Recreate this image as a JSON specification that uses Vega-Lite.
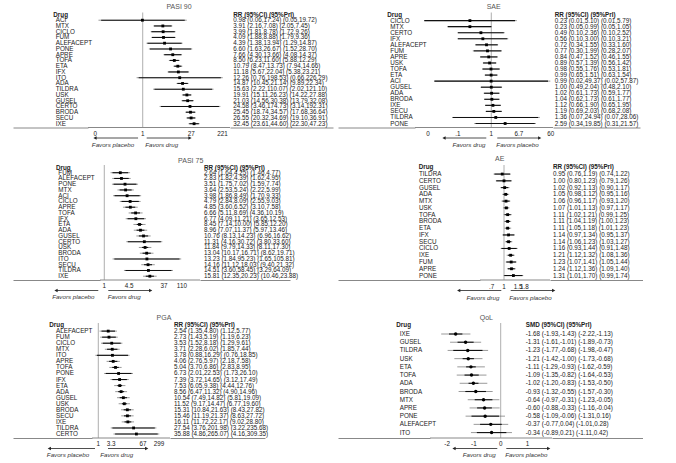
{
"$schema": "https://vega.github.io/schema/vega-lite/v6.json",
"background": "white",
"padding": {"left": 13, "top": 2.5, "right": 0, "bottom": 0},
"datasets": {
"one": [{}],
"t_pasi90": [{"v":0.04,"t":"0"},{"v":1,"t":"1"},{"v":27,"t":"27"},{"v":221,"t":"221"}],
"t_sae": [{"v":0.013,"t":"0"},{"v":0.1,"t":".1"},{"v":1,"t":"1"},{"v":6.7,"t":"6.7"},{"v":60,"t":"60"}],
"t_pasi75": [{"v":1,"t":"1"},{"v":4.5,"t":"4.5"},{"v":37,"t":"37"},{"v":110,"t":"110"}],
"t_ae": [{"v":0.7,"t":".7"},{"v":1,"t":"1"},{"v":1.5,"t":"1.5"},{"v":1.8,"t":"1.8"}],
"t_pga": [{"v":1,"t":"1"},{"v":3.3,"t":"3.3"},{"v":67,"t":"67"},{"v":299,"t":"299"}],
"t_qol": [{"v":-2,"t":"-2"},{"v":-1,"t":"-1"},{"v":0,"t":"0"},{"v":1,"t":"1"}],
"pasi90": [
{"drug":"ACI","rr":0.98,"lo":0.06,"hi":17.24,"plo":0.05,"phi":19.72,"label":"0.98 (0.06,17.24) (0.05,19.72)"},
{"drug":"MTX","rr":3.91,"lo":2.16,"hi":7.08,"plo":2.05,"phi":7.45,"label":"3.91 (2.16,7.08) (2.05,7.45)"},
{"drug":"CICLO","rr":3.99,"lo":1.81,"hi":8.78,"plo":1.72,"phi":9.26,"label":"3.99 (1.81,8.78) (1.72,9.26)"},
{"drug":"FUM","rr":4.09,"lo":1.88,"hi":8.88,"plo":1.79,"phi":9.36,"label":"4.09 (1.88,8.88) (1.79,9.36)"},
{"drug":"ALEFACEPT","rr":4.39,"lo":1.38,"hi":13.94,"plo":1.29,"phi":14.87,"label":"4.39 (1.38,13.94) (1.29,14.87)"},
{"drug":"PONE","rr":6.60,"lo":1.63,"hi":26.67,"plo":1.52,"phi":28.70,"label":"6.60 (1.63,26.67) (1.52,28.70)"},
{"drug":"APRE","rr":7.66,"lo":4.30,"hi":13.66,"plo":4.08,"phi":14.37,"label":"7.66 (4.30,13.66) (4.08,14.37)"},
{"drug":"TOFA","rr":8.50,"lo":6.23,"hi":11.60,"plo":5.88,"phi":12.29,"label":"8.50 (6.23,11.60) (5.88,12.29)"},
{"drug":"ETA","rr":10.79,"lo":8.47,"hi":13.73,"plo":7.94,"phi":14.66,"label":"10.79 (8.47,13.73) (7.94,14.66)"},
{"drug":"IFX","rr":11.18,"lo":5.67,"hi":22.04,"plo":5.38,"phi":23.21,"label":"11.18 (5.67,22.04) (5.38,23.21)"},
{"drug":"ITO","rr":12.26,"lo":0.76,"hi":198.53,"plo":0.66,"phi":226.29,"label":"12.26 (0.76,198.53) (0.66,226.29)"},
{"drug":"ADA","rr":14.87,"lo":10.45,"hi":21.14,"plo":9.89,"phi":22.34,"label":"14.87 (10.45,21.14) (9.89,22.34)"},
{"drug":"TILDRA","rr":15.63,"lo":2.22,"hi":110.07,"plo":2.02,"phi":121.10,"label":"15.63 (2.22,110.07) (2.02,121.10)"},
{"drug":"USK","rr":19.91,"lo":15.11,"hi":26.23,"plo":14.22,"phi":27.88,"label":"19.91 (15.11,26.23) (14.22,27.88)"},
{"drug":"GUSEL","rr":21.03,"lo":14.56,"hi":30.38,"plo":13.79,"phi":32.08,"label":"21.03 (14.56,30.38) (13.79,32.08)"},
{"drug":"CERTO","rr":24.58,"lo":3.46,"hi":174.73,"plo":3.14,"phi":192.31,"label":"24.58 (3.46,174.73) (3.14,192.31)"},
{"drug":"BRODA","rr":25.45,"lo":18.74,"hi":34.57,"plo":17.68,"phi":36.64,"label":"25.45 (18.74,34.57) (17.68,36.64)"},
{"drug":"SECU","rr":26.55,"lo":20.32,"hi":34.69,"plo":19.10,"phi":36.91,"label":"26.55 (20.32,34.69) (19.10,36.91)"},
{"drug":"IXE","rr":32.45,"lo":23.61,"hi":44.60,"plo":22.30,"phi":47.23,"label":"32.45 (23.61,44.60) (22.30,47.23)"}
],
"sae": [
{"drug":"CICLO","rr":0.23,"lo":0.01,"hi":5.10,"plo":0.01,"phi":5.79,"label":"0.23 (0.01,5.10)  (0.01,5.79)"},
{"drug":"MTX","rr":0.23,"lo":0.05,"hi":0.99,"plo":0.05,"phi":1.05,"label":"0.23 (0.05,0.99)  (0.05,1.05)"},
{"drug":"CERTO","rr":0.49,"lo":0.10,"hi":2.36,"plo":0.10,"phi":2.52,"label":"0.49 (0.10,2.36)  (0.10,2.52)"},
{"drug":"IFX","rr":0.56,"lo":0.10,"hi":3.00,"plo":0.10,"phi":3.21,"label":"0.56 (0.10,3.00)  (0.10,3.21)"},
{"drug":"ALEFACEPT","rr":0.72,"lo":0.34,"hi":1.55,"plo":0.33,"phi":1.60,"label":"0.72 (0.34,1.55)  (0.33,1.60)"},
{"drug":"FUM","rr":0.77,"lo":0.30,"hi":1.99,"plo":0.28,"phi":2.07,"label":"0.77 (0.30,1.99)  (0.28,2.07)"},
{"drug":"APRE","rr":0.84,"lo":0.47,"hi":1.52,"plo":0.46,"phi":1.55,"label":"0.84 (0.47,1.52)  (0.46,1.55)"},
{"drug":"USK","rr":0.89,"lo":0.57,"hi":1.39,"plo":0.56,"phi":1.42,"label":"0.89 (0.57,1.39)  (0.56,1.42)"},
{"drug":"TOFA","rr":0.98,"lo":0.55,"hi":1.76,"plo":0.53,"phi":1.81,"label":"0.98 (0.55,1.76)  (0.53,1.81)"},
{"drug":"ETA","rr":0.99,"lo":0.65,"hi":1.51,"plo":0.63,"phi":1.54,"label":"0.99 (0.65,1.51)  (0.63,1.54)"},
{"drug":"ACI","rr":0.99,"lo":0.02,"hi":49.37,"plo":0.02,"phi":57.87,"label":"0.99 (0.02,49.37)  (0.02,57.87)"},
{"drug":"GUSEL","rr":1.00,"lo":0.49,"hi":2.04,"plo":0.48,"phi":2.10,"label":"1.00 (0.49,2.04)  (0.48,2.10)"},
{"drug":"ADA","rr":1.02,"lo":0.61,"hi":1.73,"plo":0.59,"phi":1.77,"label":"1.02 (0.61,1.73)  (0.59,1.77)"},
{"drug":"BRODA","rr":1.04,"lo":0.62,"hi":1.73,"plo":0.61,"phi":1.77,"label":"1.04 (0.62,1.73)  (0.61,1.77)"},
{"drug":"IXE","rr":1.12,"lo":0.66,"hi":1.90,"plo":0.65,"phi":1.95,"label":"1.12 (0.66,1.90)  (0.65,1.95)"},
{"drug":"SECU","rr":1.19,"lo":0.69,"hi":2.03,"plo":0.68,"phi":2.08,"label":"1.19 (0.69,2.03)  (0.68,2.08)"},
{"drug":"TILDRA","rr":1.36,"lo":0.07,"hi":24.94,"plo":0.07,"phi":28.06,"label":"1.36 (0.07,24.94)  (0.07,28.06)"},
{"drug":"PONE","rr":2.59,"lo":0.34,"hi":19.85,"plo":0.31,"phi":21.57,"label":"2.59 (0.34,19.85)  (0.31,21.57)"}
],
"pasi75": [
{"drug":"FUM","rr":2.64,"lo":1.64,"hi":4.25,"plo":1.46,"phi":4.77,"label":"2.64 (1.64,4.25) (1.46,4.77)"},
{"drug":"ALEFACEPT","rr":2.83,"lo":1.82,"hi":4.39,"plo":1.62,"phi":4.95,"label":"2.83 (1.82,4.39) (1.62,4.95)"},
{"drug":"PONE","rr":3.51,"lo":1.75,"hi":7.02,"plo":1.59,"phi":7.74,"label":"3.51 (1.75,7.02) (1.59,7.74)"},
{"drug":"MTX","rr":3.64,"lo":2.53,"hi":5.24,"plo":2.22,"phi":5.99,"label":"3.64 (2.53,5.24) (2.22,5.99)"},
{"drug":"ACI","rr":3.98,"lo":1.86,"hi":8.49,"plo":1.70,"phi":9.33,"label":"3.98 (1.86,8.49) (1.70,9.33)"},
{"drug":"CICLO","rr":4.79,"lo":2.84,"hi":8.09,"plo":2.55,"phi":9.03,"label":"4.79 (2.84,8.09) (2.55,9.03)"},
{"drug":"APRE","rr":4.85,"lo":3.60,"hi":6.52,"plo":3.10,"phi":7.58,"label":"4.85 (3.60,6.52) (3.10,7.58)"},
{"drug":"TOFA","rr":6.66,"lo":5.11,"hi":8.69,"plo":4.36,"phi":10.19,"label":"6.66 (5.11,8.69) (4.36,10.19)"},
{"drug":"IFX","rr":6.77,"lo":4.09,"hi":11.21,"plo":3.65,"phi":12.53,"label":"6.77 (4.09,11.21) (3.65,12.53)"},
{"drug":"ETA","rr":8.45,"lo":7.14,"hi":10.00,"plo":5.85,"phi":12.20,"label":"8.45 (7.14,10.00) (5.85,12.20)"},
{"drug":"ADA","rr":8.96,"lo":7.07,"hi":11.37,"plo":5.97,"phi":13.46,"label":"8.96 (7.07,11.37) (5.97,13.46)"},
{"drug":"GUSEL","rr":10.76,"lo":8.13,"hi":14.23,"plo":6.96,"phi":16.62,"label":"10.76 (8.13,14.23) (6.96,16.62)"},
{"drug":"CERTO","rr":11.31,"lo":4.16,"hi":30.72,"plo":3.80,"phi":33.60,"label":"11.31 (4.16,30.72) (3.80,33.60)"},
{"drug":"USK","rr":11.84,"lo":9.79,"hi":14.33,"plo":8.11,"phi":17.30,"label":"11.84 (9.79,14.33) (8.11,17.30)"},
{"drug":"BRODA","rr":13.04,"lo":10.17,"hi":16.71,"plo":8.62,"phi":19.71,"label":"13.04 (10.17,16.71) (8.62,19.71)"},
{"drug":"ITO","rr":13.23,"lo":1.84,"hi":95.23,"plo":1.65,"phi":105.81,"label":"13.23 (1.84,95.23) (1.65,105.81)"},
{"drug":"SECU","rr":14.16,"lo":11.12,"hi":18.03,"plo":9.40,"phi":21.32,"label":"14.16 (11.12,18.03) (9.40,21.32)"},
{"drug":"TILDRA","rr":14.51,"lo":3.60,"hi":58.45,"plo":3.29,"phi":64.09,"label":"14.51 (3.60,58.45) (3.29,64.09)"},
{"drug":"IXE","rr":15.81,"lo":12.35,"hi":20.23,"plo":10.46,"phi":23.88,"label":"15.81 (12.35,20.23) (10.46,23.88)"}
],
"ae": [
{"drug":"TILDRA","rr":0.95,"lo":0.76,"hi":1.19,"plo":0.74,"phi":1.22,"label":"0.95 (0.76,1.19) (0.74,1.22)"},
{"drug":"CERTO","rr":1.00,"lo":0.80,"hi":1.23,"plo":0.79,"phi":1.26,"label":"1.00 (0.80,1.23) (0.79,1.26)"},
{"drug":"GUSEL","rr":1.02,"lo":0.92,"hi":1.13,"plo":0.90,"phi":1.17,"label":"1.02 (0.92,1.13) (0.90,1.17)"},
{"drug":"ADA","rr":1.05,"lo":0.98,"hi":1.12,"plo":0.95,"phi":1.16,"label":"1.05 (0.98,1.12) (0.95,1.16)"},
{"drug":"MTX","rr":1.06,"lo":0.96,"hi":1.17,"plo":0.93,"phi":1.20,"label":"1.06 (0.96,1.17) (0.93,1.20)"},
{"drug":"USK","rr":1.07,"lo":1.01,"hi":1.13,"plo":0.97,"phi":1.17,"label":"1.07 (1.01,1.13) (0.97,1.17)"},
{"drug":"TOFA","rr":1.11,"lo":1.02,"hi":1.21,"plo":0.99,"phi":1.25,"label":"1.11 (1.02,1.21) (0.99,1.25)"},
{"drug":"BRODA","rr":1.11,"lo":1.04,"hi":1.19,"plo":1.00,"phi":1.23,"label":"1.11 (1.04,1.19) (1.00,1.23)"},
{"drug":"ETA","rr":1.11,"lo":1.05,"hi":1.18,"plo":1.01,"phi":1.23,"label":"1.11 (1.05,1.18) (1.01,1.23)"},
{"drug":"IFX","rr":1.14,"lo":0.97,"hi":1.34,"plo":0.95,"phi":1.37,"label":"1.14 (0.97,1.34) (0.95,1.37)"},
{"drug":"SECU","rr":1.14,"lo":1.06,"hi":1.23,"plo":1.03,"phi":1.27,"label":"1.14 (1.06,1.23) (1.03,1.27)"},
{"drug":"CICLO","rr":1.16,"lo":0.93,"hi":1.44,"plo":0.91,"phi":1.48,"label":"1.16 (0.93,1.44) (0.91,1.48)"},
{"drug":"IXE","rr":1.21,"lo":1.12,"hi":1.32,"plo":1.08,"phi":1.36,"label":"1.21 (1.12,1.32) (1.08,1.36)"},
{"drug":"FUM","rr":1.23,"lo":1.07,"hi":1.41,"plo":1.05,"phi":1.44,"label":"1.23 (1.07,1.41) (1.05,1.44)"},
{"drug":"APRE","rr":1.24,"lo":1.12,"hi":1.36,"plo":1.09,"phi":1.40,"label":"1.24 (1.12,1.36) (1.09,1.40)"},
{"drug":"PONE","rr":1.31,"lo":1.01,"hi":1.70,"plo":0.99,"phi":1.74,"label":"1.31 (1.01,1.70) (0.99,1.74)"}
],
"pga": [
{"drug":"ALEFACEPT","rr":2.54,"lo":1.35,"hi":4.80,"plo":1.12,"phi":5.77,"label":"2.54 (1.35,4.80) (1.12,5.77)"},
{"drug":"FUM","rr":2.73,"lo":1.43,"hi":5.19,"plo":1.19,"phi":6.23,"label":"2.73 (1.43,5.19) (1.19,6.23)"},
{"drug":"CICLO","rr":3.53,"lo":1.52,"hi":8.18,"plo":1.29,"phi":9.61,"label":"3.53 (1.52,8.18) (1.29,9.61)"},
{"drug":"MTX","rr":3.71,"lo":2.28,"hi":6.02,"plo":1.85,"phi":7.44,"label":"3.71 (2.28,6.02) (1.85,7.44)"},
{"drug":"ITO","rr":3.78,"lo":0.88,"hi":16.29,"plo":0.76,"phi":18.85,"label":"3.78 (0.88,16.29) (0.76,18.85)"},
{"drug":"APRE","rr":4.06,"lo":2.76,"hi":5.97,"plo":2.18,"phi":7.58,"label":"4.06 (2.76,5.97) (2.18,7.58)"},
{"drug":"TOFA","rr":5.04,"lo":3.70,"hi":6.86,"plo":2.83,"phi":8.95,"label":"5.04 (3.70,6.86) (2.83,8.95)"},
{"drug":"PONE","rr":6.73,"lo":2.01,"hi":22.53,"plo":1.73,"phi":26.10,"label":"6.73 (2.01,22.53) (1.73,26.10)"},
{"drug":"IFX","rr":7.39,"lo":3.72,"hi":14.65,"plo":3.12,"phi":17.49,"label":"7.39 (3.72,14.65) (3.12,17.49)"},
{"drug":"ETA","rr":7.53,"lo":6.05,"hi":9.38,"plo":4.44,"phi":12.76,"label":"7.53 (6.05,9.38) (4.44,12.76)"},
{"drug":"ADA","rr":8.56,"lo":6.47,"hi":11.32,"plo":4.90,"phi":14.96,"label":"8.56 (6.47,11.32) (4.90,14.96)"},
{"drug":"GUSEL","rr":10.54,"lo":7.49,"hi":14.82,"plo":5.81,"phi":19.09,"label":"10.54 (7.49,14.82) (5.81,19.09)"},
{"drug":"USK","rr":11.52,"lo":9.17,"hi":14.47,"plo":6.77,"phi":19.60,"label":"11.52 (9.17,14.47) (6.77,19.60)"},
{"drug":"BRODA","rr":15.31,"lo":10.84,"hi":21.63,"plo":8.43,"phi":27.82,"label":"15.31 (10.84,21.63) (8.43,27.82)"},
{"drug":"SECU","rr":15.46,"lo":11.19,"hi":21.37,"plo":8.63,"phi":27.72,"label":"15.46 (11.19,21.37) (8.63,27.72)"},
{"drug":"IXE","rr":16.11,"lo":11.72,"hi":22.17,"plo":9.02,"phi":28.80,"label":"16.11 (11.72,22.17) (9.02,28.80)"},
{"drug":"TILDRA","rr":27.54,"lo":3.76,"hi":201.98,"plo":3.22,"phi":235.68,"label":"27.54 (3.76,201.98) (3.22,235.68)"},
{"drug":"CERTO","rr":35.88,"lo":4.86,"hi":265.07,"plo":4.16,"phi":309.35,"label":"35.88 (4.86,265.07) (4.16,309.35)"}
],
"qol": [
{"drug":"IXE","rr":-1.68,"lo":-1.93,"hi":-1.43,"plo":-2.22,"phi":-1.13,"label":"-1.68 (-1.93,-1.43) (-2.22,-1.13)"},
{"drug":"GUSEL","rr":-1.31,"lo":-1.61,"hi":-1.01,"plo":-1.89,"phi":-0.73,"label":"-1.31 (-1.61,-1.01) (-1.89,-0.73)"},
{"drug":"TILDRA","rr":-1.23,"lo":-1.77,"hi":-0.68,"plo":-1.98,"phi":-0.47,"label":"-1.23 (-1.77,-0.68) (-1.98,-0.47)"},
{"drug":"USK","rr":-1.21,"lo":-1.42,"hi":-1.00,"plo":-1.73,"phi":-0.68,"label":"-1.21 (-1.42,-1.00) (-1.73,-0.68)"},
{"drug":"ETA","rr":-1.11,"lo":-1.29,"hi":-0.93,"plo":-1.62,"phi":-0.59,"label":"-1.11 (-1.29,-0.93) (-1.62,-0.59)"},
{"drug":"TOFA","rr":-1.09,"lo":-1.35,"hi":-0.82,"plo":-1.64,"phi":-0.53,"label":"-1.09 (-1.35,-0.82) (-1.64,-0.53)"},
{"drug":"ADA","rr":-1.02,"lo":-1.20,"hi":-0.83,"plo":-1.53,"phi":-0.50,"label":"-1.02 (-1.20,-0.83) (-1.53,-0.50)"},
{"drug":"BRODA","rr":-0.93,"lo":-1.32,"hi":-0.55,"plo":-1.57,"phi":-0.30,"label":"-0.93 (-1.32,-0.55) (-1.57,-0.30)"},
{"drug":"MTX","rr":-0.64,"lo":-0.97,"hi":-0.31,"plo":-1.23,"phi":-0.05,"label":"-0.64 (-0.97,-0.31) (-1.23,-0.05)"},
{"drug":"APRE","rr":-0.60,"lo":-0.88,"hi":-0.33,"plo":-1.16,"phi":-0.04,"label":"-0.60 (-0.88,-0.33) (-1.16,-0.04)"},
{"drug":"PONE","rr":-0.58,"lo":-1.09,"hi":-0.06,"plo":-1.31,"phi":0.16,"label":"-0.58 (-1.09,-0.06) (-1.31,0.16)"},
{"drug":"ALEFACEPT","rr":-0.37,"lo":-0.77,"hi":0.04,"plo":-1.01,"phi":0.28,"label":"-0.37 (-0.77,0.04) (-1.01,0.28)"},
{"drug":"ITO","rr":-0.34,"lo":-0.89,"hi":0.21,"plo":-1.11,"phi":0.42,"label":"-0.34 (-0.89,0.21) (-1.11,0.42)"}
]
},
"spacing": 5.5,
"vconcat": [
{"hconcat": [
  {"width": 75, "height": 115, "data": {"name": "pasi90"},
   "title": {"text": "Drug", "anchor": "start", "frame": "group", "dx": 40.3, "offset": -8.7, "baseline": "middle", "fontSize": 6.3, "fontWeight": "bold", "color": "#222"},
   "mark": {"type": "text", "align": "left", "baseline": "middle", "dx": 42.7, "fontSize": 6.3, "color": "#222"},
   "encoding": {"x": {"datum": 0, "type": "quantitative", "scale": {"domain": [0, 1]}, "axis": {"labels": false, "ticks": false, "title": null}},
    "y": {"field": "drug", "type": "nominal", "sort": null, "scale": {"type": "point", "padding": 1.3, "align": 0.67}, "axis": null},
    "text": {"field": "drug"}}},
  {"width": 142, "height": 115,
   "title": {"text": "PASI 90", "anchor": "start", "frame": "group", "align": "center", "dx": 91, "offset": -2, "baseline": "middle", "fontSize": 7, "fontWeight": "normal", "color": "#555"},
   "layer": [
    {"data": {"name": "one"}, "mark": {"type": "rule", "color": "#999", "strokeWidth": 0.8}, "encoding": {"x": {"datum": 1, "type": "quantitative", "scale": {"type": "log", "domain": [0.02461, 369.4], "nice": false}, "axis": null}}},
    {"data": {"name": "one"}, "mark": {"type": "rule", "color": "#888", "strokeWidth": 1}, "encoding": {"x": {"datum": 0.02461, "axis": null}, "x2": {"datum": 369.4}, "y": {"datum": 0, "type": "quantitative", "scale": {"domain": [0, 115], "nice": false}, "axis": null}}},
    {"data": {"name": "t_pasi90"}, "mark": {"type": "text", "fontSize": 6.3, "color": "#222", "baseline": "middle"}, "encoding": {"x": {"field": "v", "type": "quantitative", "axis": null}, "y": {"datum": -6, "type": "quantitative", "scale": {"domain": [0, 115], "nice": false}, "axis": null}, "text": {"field": "t"}}},
    {"data": {"name": "one"}, "mark": {"type": "rule", "color": "#222", "strokeWidth": 0.8}, "encoding": {"x": {"datum": 0.73, "axis": null}, "x2": {"datum": 0.0395}, "y": {"datum": -10.5, "type": "quantitative", "scale": {"domain": [0, 115], "nice": false}, "axis": null}}},
    {"data": {"name": "one"}, "mark": {"type": "rule", "color": "#222", "strokeWidth": 0.8}, "encoding": {"x": {"datum": 1.31, "axis": null}, "x2": {"datum": 24.6}, "y": {"datum": -10.5, "type": "quantitative", "scale": {"domain": [0, 115], "nice": false}, "axis": null}}},
    {"data": {"name": "one"}, "mark": {"type": "point", "shape": "triangle-left", "filled": true, "size": 14, "color": "#222", "opacity": 1}, "encoding": {"x": {"datum": 0.0395, "axis": null}, "y": {"datum": -10.5, "type": "quantitative", "scale": {"domain": [0, 115], "nice": false}, "axis": null}}},
    {"data": {"name": "one"}, "mark": {"type": "point", "shape": "triangle-right", "filled": true, "size": 14, "color": "#222", "opacity": 1}, "encoding": {"x": {"datum": 24.6, "axis": null}, "y": {"datum": -10.5, "type": "quantitative", "scale": {"domain": [0, 115], "nice": false}, "axis": null}}},
    {"data": {"name": "one"}, "mark": {"type": "text", "fontStyle": "italic", "fontSize": 6.2, "color": "#333", "baseline": "middle"}, "encoding": {"x": {"datum": 0.134, "axis": null}, "y": {"datum": -17, "type": "quantitative", "scale": {"domain": [0, 115], "nice": false}, "axis": null}, "text": {"value": "Favors placebo"}}},
    {"data": {"name": "one"}, "mark": {"type": "text", "fontStyle": "italic", "fontSize": 6.2, "color": "#333", "baseline": "middle"}, "encoding": {"x": {"datum": 3.62, "axis": null}, "y": {"datum": -17, "type": "quantitative", "scale": {"domain": [0, 115], "nice": false}, "axis": null}, "text": {"value": "Favors drug"}}},
    {"data": {"name": "pasi90"}, "mark": {"type": "rule", "strokeWidth": 0.6, "color": "#555"}, "encoding": {"x": {"field": "plo", "type": "quantitative", "axis": null}, "x2": {"field": "phi"}, "y": {"field": "drug", "type": "nominal", "sort": null, "scale": {"type": "point", "padding": 1.3, "align": 0.67}, "axis": null}}},
    {"data": {"name": "pasi90"}, "mark": {"type": "rule", "strokeWidth": 1.1, "color": "#111"}, "encoding": {"x": {"field": "lo", "type": "quantitative", "axis": null}, "x2": {"field": "hi"}, "y": {"field": "drug", "type": "nominal", "sort": null, "scale": {"type": "point", "padding": 1.3, "align": 0.67}, "axis": null}}},
    {"data": {"name": "pasi90"}, "mark": {"type": "point", "shape": "square", "filled": true, "size": 8, "color": "#000", "opacity": 1}, "encoding": {"x": {"field": "rr", "type": "quantitative", "axis": null}, "y": {"field": "drug", "type": "nominal", "sort": null, "scale": {"type": "point", "padding": 1.3, "align": 0.67}, "axis": null}}}
   ],
   "resolve": {"scale": {"y": "independent"}}},
  {"width": 103, "height": 115, "data": {"name": "pasi90"},
   "title": {"text": "RR (95%CI) (95%PrI)", "anchor": "start", "frame": "group", "dx": 3.3, "offset": -8.7, "baseline": "middle", "fontSize": 6.3, "fontWeight": "bold", "color": "#222"},
   "mark": {"type": "text", "align": "left", "baseline": "middle", "dx": 3.3, "fontSize": 6.3, "color": "#222"},
   "encoding": {"x": {"datum": 0, "type": "quantitative", "scale": {"domain": [0, 1]}, "axis": {"labels": false, "ticks": false, "title": null}},
    "y": {"field": "drug", "type": "nominal", "sort": null, "scale": {"type": "point", "padding": 1.3, "align": 0.67}, "axis": null},
    "text": {"field": "label"}}},
  {"width": 5, "height": 115, "data": {"values": []}, "mark": "point"},
  {"width": 77, "height": 115, "data": {"name": "sae"},
   "title": {"text": "Drug", "anchor": "start", "frame": "group", "dx": 49.3, "offset": -8.7, "baseline": "middle", "fontSize": 6.3, "fontWeight": "bold", "color": "#222"},
   "mark": {"type": "text", "align": "left", "baseline": "middle", "dx": 52.3, "fontSize": 6.3, "color": "#222"},
   "encoding": {"x": {"datum": 0, "type": "quantitative", "scale": {"domain": [0, 1]}, "axis": {"labels": false, "ticks": false, "title": null}},
    "y": {"field": "drug", "type": "nominal", "sort": null, "scale": {"type": "point", "padding": 1.3, "align": 0.67}, "axis": null},
    "text": {"field": "drug"}}},
  {"width": 138, "height": 115,
   "title": {"text": "SAE", "anchor": "start", "frame": "group", "align": "center", "dx": 78.7, "offset": -2, "baseline": "middle", "fontSize": 7, "fontWeight": "normal", "color": "#555"},
   "layer": [
    {"data": {"name": "one"}, "mark": {"type": "rule", "color": "#999", "strokeWidth": 0.8}, "encoding": {"x": {"datum": 1, "type": "quantitative", "scale": {"type": "log", "domain": [0.00528, 69.5], "nice": false}, "axis": null}}},
    {"data": {"name": "one"}, "mark": {"type": "rule", "color": "#888", "strokeWidth": 1}, "encoding": {"x": {"datum": 0.00528, "axis": null}, "x2": {"datum": 69.5}, "y": {"datum": 0, "type": "quantitative", "scale": {"domain": [0, 115], "nice": false}, "axis": null}}},
    {"data": {"name": "t_sae"}, "mark": {"type": "text", "fontSize": 6.3, "color": "#222", "baseline": "middle"}, "encoding": {"x": {"field": "v", "type": "quantitative", "axis": null}, "y": {"datum": -6, "type": "quantitative", "scale": {"domain": [0, 115], "nice": false}, "axis": null}, "text": {"field": "t"}}},
    {"data": {"name": "one"}, "mark": {"type": "rule", "color": "#222", "strokeWidth": 0.8}, "encoding": {"x": {"datum": 0.709, "axis": null}, "x2": {"datum": 0.0387}, "y": {"datum": -10.5, "type": "quantitative", "scale": {"domain": [0, 115], "nice": false}, "axis": null}}},
    {"data": {"name": "one"}, "mark": {"type": "rule", "color": "#222", "strokeWidth": 0.8}, "encoding": {"x": {"datum": 1.51, "axis": null}, "x2": {"datum": 27.8}, "y": {"datum": -10.5, "type": "quantitative", "scale": {"domain": [0, 115], "nice": false}, "axis": null}}},
    {"data": {"name": "one"}, "mark": {"type": "point", "shape": "triangle-left", "filled": true, "size": 14, "color": "#222", "opacity": 1}, "encoding": {"x": {"datum": 0.0387, "axis": null}, "y": {"datum": -10.5, "type": "quantitative", "scale": {"domain": [0, 115], "nice": false}, "axis": null}}},
    {"data": {"name": "one"}, "mark": {"type": "point", "shape": "triangle-right", "filled": true, "size": 14, "color": "#222", "opacity": 1}, "encoding": {"x": {"datum": 27.8, "axis": null}, "y": {"datum": -10.5, "type": "quantitative", "scale": {"domain": [0, 115], "nice": false}, "axis": null}}},
    {"data": {"name": "one"}, "mark": {"type": "text", "fontStyle": "italic", "fontSize": 6.2, "color": "#333", "baseline": "middle"}, "encoding": {"x": {"datum": 0.216, "axis": null}, "y": {"datum": -17, "type": "quantitative", "scale": {"domain": [0, 115], "nice": false}, "axis": null}, "text": {"value": "Favors drug"}}},
    {"data": {"name": "one"}, "mark": {"type": "text", "fontStyle": "italic", "fontSize": 6.2, "color": "#333", "baseline": "middle"}, "encoding": {"x": {"datum": 6.06, "axis": null}, "y": {"datum": -17, "type": "quantitative", "scale": {"domain": [0, 115], "nice": false}, "axis": null}, "text": {"value": "Favors placebo"}}},
    {"data": {"name": "sae"}, "mark": {"type": "rule", "strokeWidth": 0.6, "color": "#555"}, "encoding": {"x": {"field": "plo", "type": "quantitative", "axis": null}, "x2": {"field": "phi"}, "y": {"field": "drug", "type": "nominal", "sort": null, "scale": {"type": "point", "padding": 1.3, "align": 0.67}, "axis": null}}},
    {"data": {"name": "sae"}, "mark": {"type": "rule", "strokeWidth": 1.1, "color": "#111"}, "encoding": {"x": {"field": "lo", "type": "quantitative", "axis": null}, "x2": {"field": "hi"}, "y": {"field": "drug", "type": "nominal", "sort": null, "scale": {"type": "point", "padding": 1.3, "align": 0.67}, "axis": null}}},
    {"data": {"name": "sae"}, "mark": {"type": "point", "shape": "square", "filled": true, "size": 8, "color": "#000", "opacity": 1}, "encoding": {"x": {"field": "rr", "type": "quantitative", "axis": null}, "y": {"field": "drug", "type": "nominal", "sort": null, "scale": {"type": "point", "padding": 1.3, "align": 0.67}, "axis": null}}}
   ],
   "resolve": {"scale": {"y": "independent"}}},
  {"width": 87, "height": 115, "data": {"name": "sae"},
   "title": {"text": "RR (95%CI) (95%PrI)", "anchor": "start", "frame": "group", "dx": 1.7, "offset": -8.7, "baseline": "middle", "fontSize": 6.3, "fontWeight": "bold", "color": "#222"},
   "mark": {"type": "text", "align": "left", "baseline": "middle", "dx": 1.7, "fontSize": 6.3, "color": "#222"},
   "encoding": {"x": {"datum": 0, "type": "quantitative", "scale": {"domain": [0, 1]}, "axis": {"labels": false, "ticks": false, "title": null}},
    "y": {"field": "drug", "type": "nominal", "sort": null, "scale": {"type": "point", "padding": 1.3, "align": 0.67}, "axis": null},
    "text": {"field": "label"}}}
 ], "spacing": 0, "bounds": "flush"},
{"spacing": 12,
 "vconcat": [
 {"hconcat": [
   {"width": 87, "height": 115, "data": {"name": "pasi75"},
    "title": {"text": "Drug", "anchor": "start", "frame": "group", "dx": 43, "offset": -9.2, "baseline": "middle", "fontSize": 6.3, "fontWeight": "bold", "color": "#222"},
    "mark": {"type": "text", "align": "left", "baseline": "middle", "dx": 45.3, "fontSize": 6.3, "color": "#222"},
    "encoding": {"x": {"datum": 0, "type": "quantitative", "scale": {"domain": [0, 1]}, "axis": {"labels": false, "ticks": false, "title": null}},
     "y": {"field": "drug", "type": "nominal", "sort": null, "scale": {"type": "point", "padding": 1.3, "align": 0.67}, "axis": null},
     "text": {"field": "drug"}}},
   {"width": 100, "height": 115,
    "title": {"text": "PASI 75", "anchor": "start", "frame": "group", "align": "center", "dx": 90.7, "offset": -3, "baseline": "middle", "fontSize": 7, "fontWeight": "normal", "color": "#555"},
    "layer": [
     {"data": {"name": "one"}, "mark": {"type": "rule", "color": "#999", "strokeWidth": 0.8}, "encoding": {"x": {"datum": 1, "type": "quantitative", "scale": {"type": "log", "domain": [0.771, 329.9], "nice": false}, "axis": null}}},
     {"data": {"name": "one"}, "mark": {"type": "rule", "color": "#888", "strokeWidth": 1}, "encoding": {"x": {"datum": 0.771, "axis": null}, "x2": {"datum": 329.9}, "y": {"datum": 0, "type": "quantitative", "scale": {"domain": [0, 115], "nice": false}, "axis": null}}},
     {"data": {"name": "t_pasi75"}, "mark": {"type": "text", "fontSize": 6.3, "color": "#222", "baseline": "middle"}, "encoding": {"x": {"field": "v", "type": "quantitative", "axis": null}, "y": {"datum": -6, "type": "quantitative", "scale": {"domain": [0, 115], "nice": false}, "axis": null}, "text": {"field": "t"}}},
     {"data": {"name": "one"}, "mark": {"type": "rule", "color": "#222", "strokeWidth": 0.8}, "encoding": {"x": {"datum": 0.695, "axis": null}, "x2": {"datum": 0.0536}, "y": {"datum": -10.5, "type": "quantitative", "scale": {"domain": [0, 115], "nice": false}, "axis": null}}},
     {"data": {"name": "one"}, "mark": {"type": "rule", "color": "#222", "strokeWidth": 0.8}, "encoding": {"x": {"datum": 1.274, "axis": null}, "x2": {"datum": 16.6}, "y": {"datum": -10.5, "type": "quantitative", "scale": {"domain": [0, 115], "nice": false}, "axis": null}}},
     {"data": {"name": "one"}, "mark": {"type": "point", "shape": "triangle-left", "filled": true, "size": 14, "color": "#222", "opacity": 1}, "encoding": {"x": {"datum": 0.0536, "axis": null}, "y": {"datum": -10.5, "type": "quantitative", "scale": {"domain": [0, 115], "nice": false}, "axis": null}}},
     {"data": {"name": "one"}, "mark": {"type": "point", "shape": "triangle-right", "filled": true, "size": 14, "color": "#222", "opacity": 1}, "encoding": {"x": {"datum": 16.6, "axis": null}, "y": {"datum": -10.5, "type": "quantitative", "scale": {"domain": [0, 115], "nice": false}, "axis": null}}},
     {"data": {"name": "one"}, "mark": {"type": "text", "fontStyle": "italic", "fontSize": 6.2, "color": "#333", "baseline": "middle"}, "encoding": {"x": {"datum": 0.153, "axis": null}, "y": {"datum": -17, "type": "quantitative", "scale": {"domain": [0, 115], "nice": false}, "axis": null}, "text": {"value": "Favors placebo"}}},
     {"data": {"name": "one"}, "mark": {"type": "text", "fontStyle": "italic", "fontSize": 6.2, "color": "#333", "baseline": "middle"}, "encoding": {"x": {"datum": 3.34, "axis": null}, "y": {"datum": -17, "type": "quantitative", "scale": {"domain": [0, 115], "nice": false}, "axis": null}, "text": {"value": "Favors drug"}}},
     {"data": {"name": "pasi75"}, "mark": {"type": "rule", "strokeWidth": 0.6, "color": "#555"}, "encoding": {"x": {"field": "plo", "type": "quantitative", "axis": null}, "x2": {"field": "phi"}, "y": {"field": "drug", "type": "nominal", "sort": null, "scale": {"type": "point", "padding": 1.3, "align": 0.67}, "axis": null}}},
     {"data": {"name": "pasi75"}, "mark": {"type": "rule", "strokeWidth": 1.1, "color": "#111"}, "encoding": {"x": {"field": "lo", "type": "quantitative", "axis": null}, "x2": {"field": "hi"}, "y": {"field": "drug", "type": "nominal", "sort": null, "scale": {"type": "point", "padding": 1.3, "align": 0.67}, "axis": null}}},
     {"data": {"name": "pasi75"}, "mark": {"type": "point", "shape": "square", "filled": true, "size": 8, "color": "#000", "opacity": 1}, "encoding": {"x": {"field": "rr", "type": "quantitative", "axis": null}, "y": {"field": "drug", "type": "nominal", "sort": null, "scale": {"type": "point", "padding": 1.3, "align": 0.67}, "axis": null}}}
    ],
    "resolve": {"scale": {"y": "independent"}}},
   {"width": 90, "height": 115, "data": {"name": "pasi75"},
    "title": {"text": "RR (95%CI) (95%PrI)", "anchor": "start", "frame": "group", "dx": 4, "offset": -9.2, "baseline": "middle", "fontSize": 6.3, "fontWeight": "bold", "color": "#222"},
    "mark": {"type": "text", "align": "left", "baseline": "middle", "dx": 4, "fontSize": 6.3, "color": "#222"},
    "encoding": {"x": {"datum": 0, "type": "quantitative", "scale": {"domain": [0, 1]}, "axis": {"labels": false, "ticks": false, "title": null}},
     "y": {"field": "drug", "type": "nominal", "sort": null, "scale": {"type": "point", "padding": 1.3, "align": 0.67}, "axis": null},
     "text": {"field": "label"}}},
   {"width": 48, "height": 115, "data": {"values": []}, "mark": "point"},
   {"width": 142, "height": 115, "data": {"name": "ae"},
    "title": {"text": "Drug", "anchor": "start", "frame": "group", "dx": 80.7, "offset": -8.3, "baseline": "middle", "fontSize": 6.3, "fontWeight": "bold", "color": "#222"},
    "mark": {"type": "text", "align": "left", "baseline": "middle", "dx": 81, "fontSize": 6.3, "color": "#222"},
    "encoding": {"x": {"datum": 0, "type": "quantitative", "scale": {"domain": [0, 1]}, "axis": {"labels": false, "ticks": false, "title": null}},
     "y": {"field": "drug", "type": "nominal", "sort": null, "scale": {"type": "point", "padding": 1.3, "align": 0.67}, "axis": null},
     "text": {"field": "drug"}}},
   {"width": 70, "height": 115,
    "title": {"text": "AE", "anchor": "start", "frame": "group", "align": "center", "dx": 19.7, "offset": -1, "baseline": "middle", "fontSize": 7, "fontWeight": "normal", "color": "#555"},
    "layer": [
     {"data": {"name": "one"}, "mark": {"type": "rule", "color": "#999", "strokeWidth": 0.8}, "encoding": {"x": {"datum": 1, "type": "quantitative", "scale": {"type": "log", "domain": [0.501, 3.758], "nice": false}, "axis": null}}},
     {"data": {"name": "one"}, "mark": {"type": "rule", "color": "#888", "strokeWidth": 1}, "encoding": {"x": {"datum": 0.501, "axis": null}, "x2": {"datum": 3.758}, "y": {"datum": 0, "type": "quantitative", "scale": {"domain": [0, 115], "nice": false}, "axis": null}}},
     {"data": {"name": "t_ae"}, "mark": {"type": "text", "fontSize": 6.3, "color": "#222", "baseline": "middle"}, "encoding": {"x": {"field": "v", "type": "quantitative", "axis": null}, "y": {"datum": -6.5, "type": "quantitative", "scale": {"domain": [0, 115], "nice": false}, "axis": null}, "text": {"field": "t"}}},
     {"data": {"name": "one"}, "mark": {"type": "rule", "color": "#222", "strokeWidth": 0.8}, "encoding": {"x": {"datum": 0.925, "axis": null}, "x2": {"datum": 0.2715}, "y": {"datum": -10.5, "type": "quantitative", "scale": {"domain": [0, 115], "nice": false}, "axis": null}}},
     {"data": {"name": "one"}, "mark": {"type": "rule", "color": "#222", "strokeWidth": 0.8}, "encoding": {"x": {"datum": 1.213, "axis": null}, "x2": {"datum": 4.18}, "y": {"datum": -10.5, "type": "quantitative", "scale": {"domain": [0, 115], "nice": false}, "axis": null}}},
     {"data": {"name": "one"}, "mark": {"type": "point", "shape": "triangle-left", "filled": true, "size": 14, "color": "#222", "opacity": 1}, "encoding": {"x": {"datum": 0.2715, "axis": null}, "y": {"datum": -10.5, "type": "quantitative", "scale": {"domain": [0, 115], "nice": false}, "axis": null}}},
     {"data": {"name": "one"}, "mark": {"type": "point", "shape": "triangle-right", "filled": true, "size": 14, "color": "#222", "opacity": 1}, "encoding": {"x": {"datum": 4.18, "axis": null}, "y": {"datum": -10.5, "type": "quantitative", "scale": {"domain": [0, 115], "nice": false}, "axis": null}}},
     {"data": {"name": "one"}, "mark": {"type": "text", "fontStyle": "italic", "fontSize": 6.2, "color": "#333", "baseline": "middle"}, "encoding": {"x": {"datum": 0.546, "axis": null}, "y": {"datum": -17.5, "type": "quantitative", "scale": {"domain": [0, 115], "nice": false}, "axis": null}, "text": {"value": "Favors drug"}}},
     {"data": {"name": "one"}, "mark": {"type": "text", "fontStyle": "italic", "fontSize": 6.2, "color": "#333", "baseline": "middle"}, "encoding": {"x": {"datum": 2.143, "axis": null}, "y": {"datum": -17.5, "type": "quantitative", "scale": {"domain": [0, 115], "nice": false}, "axis": null}, "text": {"value": "Favors placebo"}}},
     {"data": {"name": "ae"}, "mark": {"type": "rule", "strokeWidth": 0.6, "color": "#555"}, "encoding": {"x": {"field": "plo", "type": "quantitative", "axis": null}, "x2": {"field": "phi"}, "y": {"field": "drug", "type": "nominal", "sort": null, "scale": {"type": "point", "padding": 1.3, "align": 0.67}, "axis": null}}},
     {"data": {"name": "ae"}, "mark": {"type": "rule", "strokeWidth": 1.1, "color": "#111"}, "encoding": {"x": {"field": "lo", "type": "quantitative", "axis": null}, "x2": {"field": "hi"}, "y": {"field": "drug", "type": "nominal", "sort": null, "scale": {"type": "point", "padding": 1.3, "align": 0.67}, "axis": null}}},
     {"data": {"name": "ae"}, "mark": {"type": "point", "shape": "square", "filled": true, "size": 8, "color": "#000", "opacity": 1}, "encoding": {"x": {"field": "rr", "type": "quantitative", "axis": null}, "y": {"field": "drug", "type": "nominal", "sort": null, "scale": {"type": "point", "padding": 1.3, "align": 0.67}, "axis": null}}}
    ],
    "resolve": {"scale": {"y": "independent"}}},
   {"width": 93, "height": 115, "data": {"name": "ae"},
    "title": {"text": "RR (95%CI) (95%PrI)", "anchor": "start", "frame": "group", "dx": 3, "offset": -8.3, "baseline": "middle", "fontSize": 6.3, "fontWeight": "bold", "color": "#222"},
    "mark": {"type": "text", "align": "left", "baseline": "middle", "dx": 3, "fontSize": 6.3, "color": "#222"},
    "encoding": {"x": {"datum": 0, "type": "quantitative", "scale": {"domain": [0, 1]}, "axis": {"labels": false, "ticks": false, "title": null}},
     "y": {"field": "drug", "type": "nominal", "sort": null, "scale": {"type": "point", "padding": 1.3, "align": 0.67}, "axis": null},
     "text": {"field": "label"}}}
 ], "spacing": 0, "bounds": "flush"},
 {"hconcat": [
   {"width": 79, "height": 115, "data": {"name": "pga"},
    "title": {"text": "Drug", "anchor": "start", "frame": "group", "dx": 36.3, "offset": -8.5, "baseline": "middle", "fontSize": 6.3, "fontWeight": "bold", "color": "#222"},
    "mark": {"type": "text", "align": "left", "baseline": "middle", "dx": 43, "fontSize": 6.3, "color": "#222"},
    "encoding": {"x": {"datum": 0, "type": "quantitative", "scale": {"domain": [0, 1]}, "axis": {"labels": false, "ticks": false, "title": null}},
     "y": {"field": "drug", "type": "nominal", "sort": null, "scale": {"type": "point", "padding": 1.3, "align": 0.67}, "axis": null},
     "text": {"field": "drug"}}},
   {"width": 78, "height": 115,
    "title": {"text": "PGA", "anchor": "start", "frame": "group", "align": "center", "dx": 72, "offset": -2.2, "baseline": "middle", "fontSize": 7, "fontWeight": "normal", "color": "#555"},
    "layer": [
     {"data": {"name": "one"}, "mark": {"type": "rule", "color": "#999", "strokeWidth": 0.8}, "encoding": {"x": {"datum": 1, "type": "quantitative", "scale": {"type": "log", "domain": [0.553, 844], "nice": false}, "axis": null}}},
     {"data": {"name": "one"}, "mark": {"type": "rule", "color": "#888", "strokeWidth": 1}, "encoding": {"x": {"datum": 0.553, "axis": null}, "x2": {"datum": 844}, "y": {"datum": 0, "type": "quantitative", "scale": {"domain": [0, 115], "nice": false}, "axis": null}}},
     {"data": {"name": "t_pga"}, "mark": {"type": "text", "fontSize": 6.3, "color": "#222", "baseline": "middle"}, "encoding": {"x": {"field": "v", "type": "quantitative", "axis": null}, "y": {"datum": -5.5, "type": "quantitative", "scale": {"domain": [0, 115], "nice": false}, "axis": null}, "text": {"field": "t"}}},
     {"data": {"name": "one"}, "mark": {"type": "rule", "color": "#222", "strokeWidth": 0.8}, "encoding": {"x": {"datum": 0.733, "axis": null}, "x2": {"datum": 0.01}, "y": {"datum": -10.5, "type": "quantitative", "scale": {"domain": [0, 115], "nice": false}, "axis": null}}},
     {"data": {"name": "one"}, "mark": {"type": "rule", "color": "#222", "strokeWidth": 0.8}, "encoding": {"x": {"datum": 2.49, "axis": null}, "x2": {"datum": 94.5}, "y": {"datum": -10.5, "type": "quantitative", "scale": {"domain": [0, 115], "nice": false}, "axis": null}}},
     {"data": {"name": "one"}, "mark": {"type": "point", "shape": "triangle-left", "filled": true, "size": 14, "color": "#222", "opacity": 1}, "encoding": {"x": {"datum": 0.01, "axis": null}, "y": {"datum": -10.5, "type": "quantitative", "scale": {"domain": [0, 115], "nice": false}, "axis": null}}},
     {"data": {"name": "one"}, "mark": {"type": "point", "shape": "triangle-right", "filled": true, "size": 14, "color": "#222", "opacity": 1}, "encoding": {"x": {"datum": 94.5, "axis": null}, "y": {"datum": -10.5, "type": "quantitative", "scale": {"domain": [0, 115], "nice": false}, "axis": null}}},
     {"data": {"name": "one"}, "mark": {"type": "text", "fontStyle": "italic", "fontSize": 6.2, "color": "#333", "baseline": "middle"}, "encoding": {"x": {"datum": 0.058, "axis": null}, "y": {"datum": -16.5, "type": "quantitative", "scale": {"domain": [0, 115], "nice": false}, "axis": null}, "text": {"value": "Favors placebo"}}},
     {"data": {"name": "one"}, "mark": {"type": "text", "fontStyle": "italic", "fontSize": 6.2, "color": "#333", "baseline": "middle"}, "encoding": {"x": {"datum": 5.64, "axis": null}, "y": {"datum": -16.5, "type": "quantitative", "scale": {"domain": [0, 115], "nice": false}, "axis": null}, "text": {"value": "Favors drug"}}},
     {"data": {"name": "pga"}, "mark": {"type": "rule", "strokeWidth": 0.6, "color": "#555"}, "encoding": {"x": {"field": "plo", "type": "quantitative", "axis": null}, "x2": {"field": "phi"}, "y": {"field": "drug", "type": "nominal", "sort": null, "scale": {"type": "point", "padding": 1.3, "align": 0.67}, "axis": null}}},
     {"data": {"name": "pga"}, "mark": {"type": "rule", "strokeWidth": 1.1, "color": "#111"}, "encoding": {"x": {"field": "lo", "type": "quantitative", "axis": null}, "x2": {"field": "hi"}, "y": {"field": "drug", "type": "nominal", "sort": null, "scale": {"type": "point", "padding": 1.3, "align": 0.67}, "axis": null}}},
     {"data": {"name": "pga"}, "mark": {"type": "point", "shape": "square", "filled": true, "size": 8, "color": "#000", "opacity": 1}, "encoding": {"x": {"field": "rr", "type": "quantitative", "axis": null}, "y": {"field": "drug", "type": "nominal", "sort": null, "scale": {"type": "point", "padding": 1.3, "align": 0.67}, "axis": null}}}
    ],
    "resolve": {"scale": {"y": "independent"}}},
   {"width": 95, "height": 115, "data": {"name": "pga"},
    "title": {"text": "RR (95%CI) (95%PrI)", "anchor": "start", "frame": "group", "dx": 4, "offset": -8.5, "baseline": "middle", "fontSize": 6.3, "fontWeight": "bold", "color": "#222"},
    "mark": {"type": "text", "align": "left", "baseline": "middle", "dx": 4, "fontSize": 6.3, "color": "#222"},
    "encoding": {"x": {"datum": 0, "type": "quantitative", "scale": {"domain": [0, 1]}, "axis": {"labels": false, "ticks": false, "title": null}},
     "y": {"field": "drug", "type": "nominal", "sort": null, "scale": {"type": "point", "padding": 1.3, "align": 0.67}, "axis": null},
     "text": {"field": "label"}}},
   {"width": 73, "height": 115, "data": {"values": []}, "mark": "point"},
   {"width": 92, "height": 115, "data": {"name": "qol"},
    "title": {"text": "Drug", "anchor": "start", "frame": "group", "dx": 58.3, "offset": -8.5, "baseline": "middle", "fontSize": 6.3, "fontWeight": "bold", "color": "#222"},
    "mark": {"type": "text", "align": "left", "baseline": "middle", "dx": 61.7, "fontSize": 6.3, "color": "#222"},
    "encoding": {"x": {"datum": 0, "type": "quantitative", "scale": {"domain": [0, 1]}, "axis": {"labels": false, "ticks": false, "title": null}},
     "y": {"field": "drug", "type": "nominal", "sort": null, "scale": {"type": "point", "padding": 1.3, "align": 0.67}, "axis": null},
     "text": {"field": "drug"}}},
   {"width": 122, "height": 115,
    "title": {"text": "QoL", "anchor": "start", "frame": "group", "align": "center", "dx": 56.3, "offset": -2.2, "baseline": "middle", "fontSize": 7, "fontWeight": "normal", "color": "#555"},
    "layer": [
     {"data": {"name": "one"}, "mark": {"type": "rule", "color": "#999", "strokeWidth": 0.8}, "encoding": {"x": {"datum": 0, "type": "quantitative", "scale": {"type": "linear", "domain": [-2.638, 1.914], "nice": false, "zero": false}, "axis": null}}},
     {"data": {"name": "one"}, "mark": {"type": "rule", "color": "#888", "strokeWidth": 1}, "encoding": {"x": {"datum": -2.638, "axis": null}, "x2": {"datum": 1.914}, "y": {"datum": 0, "type": "quantitative", "scale": {"domain": [0, 115], "nice": false}, "axis": null}}},
     {"data": {"name": "t_qol"}, "mark": {"type": "text", "fontSize": 6.3, "color": "#222", "baseline": "middle"}, "encoding": {"x": {"field": "v", "type": "quantitative", "axis": null}, "y": {"datum": -5.5, "type": "quantitative", "scale": {"domain": [0, 115], "nice": false}, "axis": null}, "text": {"field": "t"}}},
     {"data": {"name": "one"}, "mark": {"type": "rule", "color": "#222", "strokeWidth": 0.8}, "encoding": {"x": {"datum": -0.127, "axis": null}, "x2": {"datum": -1.743}, "y": {"datum": -10.5, "type": "quantitative", "scale": {"domain": [0, 115], "nice": false}, "axis": null}}},
     {"data": {"name": "one"}, "mark": {"type": "rule", "color": "#222", "strokeWidth": 0.8}, "encoding": {"x": {"datum": 0.209, "axis": null}, "x2": {"datum": 1.791}, "y": {"datum": -10.5, "type": "quantitative", "scale": {"domain": [0, 115], "nice": false}, "axis": null}}},
     {"data": {"name": "one"}, "mark": {"type": "point", "shape": "triangle-left", "filled": true, "size": 14, "color": "#222", "opacity": 1}, "encoding": {"x": {"datum": -1.743, "axis": null}, "y": {"datum": -10.5, "type": "quantitative", "scale": {"domain": [0, 115], "nice": false}, "axis": null}}},
     {"data": {"name": "one"}, "mark": {"type": "point", "shape": "triangle-right", "filled": true, "size": 14, "color": "#222", "opacity": 1}, "encoding": {"x": {"datum": 1.791, "axis": null}, "y": {"datum": -10.5, "type": "quantitative", "scale": {"domain": [0, 115], "nice": false}, "axis": null}}},
     {"data": {"name": "one"}, "mark": {"type": "text", "fontStyle": "italic", "fontSize": 6.2, "color": "#333", "baseline": "middle"}, "encoding": {"x": {"datum": -0.8, "axis": null}, "y": {"datum": -16.5, "type": "quantitative", "scale": {"domain": [0, 115], "nice": false}, "axis": null}, "text": {"value": "Favors drug"}}},
     {"data": {"name": "one"}, "mark": {"type": "text", "fontStyle": "italic", "fontSize": 6.2, "color": "#333", "baseline": "middle"}, "encoding": {"x": {"datum": 0.955, "axis": null}, "y": {"datum": -16.5, "type": "quantitative", "scale": {"domain": [0, 115], "nice": false}, "axis": null}, "text": {"value": "Favors placebo"}}},
     {"data": {"name": "qol"}, "mark": {"type": "rule", "strokeWidth": 0.6, "color": "#555"}, "encoding": {"x": {"field": "plo", "type": "quantitative", "axis": null}, "x2": {"field": "phi"}, "y": {"field": "drug", "type": "nominal", "sort": null, "scale": {"type": "point", "padding": 1.3, "align": 0.67}, "axis": null}}},
     {"data": {"name": "qol"}, "mark": {"type": "rule", "strokeWidth": 1.1, "color": "#111"}, "encoding": {"x": {"field": "lo", "type": "quantitative", "axis": null}, "x2": {"field": "hi"}, "y": {"field": "drug", "type": "nominal", "sort": null, "scale": {"type": "point", "padding": 1.3, "align": 0.67}, "axis": null}}},
     {"data": {"name": "qol"}, "mark": {"type": "point", "shape": "circle", "filled": true, "size": 12, "color": "#000", "opacity": 1}, "encoding": {"x": {"field": "rr", "type": "quantitative", "axis": null}, "y": {"field": "drug", "type": "nominal", "sort": null, "scale": {"type": "point", "padding": 1.3, "align": 0.67}, "axis": null}}}
    ],
    "resolve": {"scale": {"y": "independent"}}},
   {"width": 91, "height": 115, "data": {"name": "qol"},
    "title": {"text": "SMD (95%CI) (95%PrI)", "anchor": "start", "frame": "group", "dx": -26.3, "offset": -8.5, "baseline": "middle", "fontSize": 6.3, "fontWeight": "bold", "color": "#222"},
    "mark": {"type": "text", "align": "left", "baseline": "middle", "dx": -26.3, "fontSize": 6.3, "color": "#222"},
    "encoding": {"x": {"datum": 0, "type": "quantitative", "scale": {"domain": [0, 1]}, "axis": {"labels": false, "ticks": false, "title": null}},
     "y": {"field": "drug", "type": "nominal", "sort": null, "scale": {"type": "point", "padding": 1.3, "align": 0.67}, "axis": null},
     "text": {"field": "label"}}}
 ], "spacing": 0, "bounds": "flush"}
 ]}
],
"config": {
 "view": {"stroke": null},
 "font": "Liberation Sans",
 "text": {"font": "Liberation Sans"},
 "title": {"font": "Liberation Sans"},
 "axis": {"labelFont": "Liberation Sans", "labelFontSize": 6.3, "labelColor": "#222", "domainColor": "#888", "domainWidth": 1, "tickColor": "#888", "tickSize": 2, "labelPadding": 1.2, "grid": false}
}
}
